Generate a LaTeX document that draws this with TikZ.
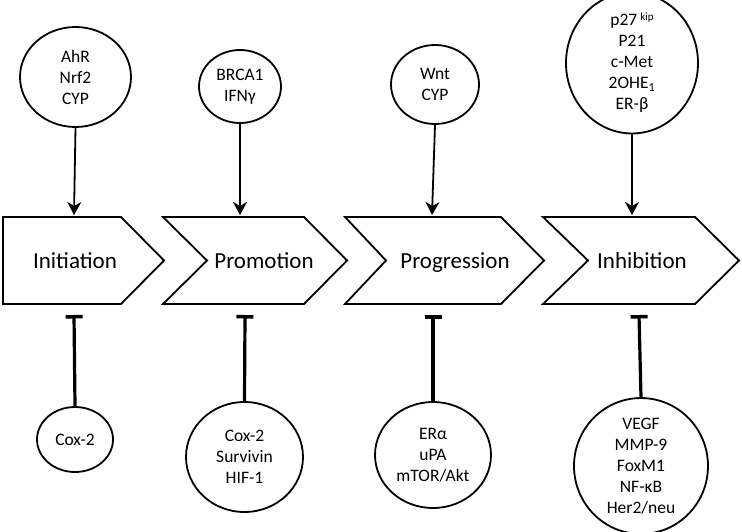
\documentclass[tikz,border=0pt]{standalone}
\usepackage{fontspec}
\setmainfont{Carlito}
\usetikzlibrary{shapes.geometric,arrows.meta}
\tikzset{
  oval/.style={draw, ellipse, line width=1.8pt, inner sep=0pt, align=center,
    font=\fontsize{17.5}{21}\selectfont},
  chev/.style={draw, line width=1.8pt, line join=miter},
  stagelabel/.style={font=\fontsize{23}{26}\selectfont, inner sep=0pt, anchor=base},
  actarrow/.style={line width=1.8pt, -{Stealth[length=13pt,width=14pt,inset=4pt]}},
  inhib/.style={line width=3.2pt, {Bar[width=17pt,line width=3.5pt]}-}
}
\begin{document}
\begin{tikzpicture}[x=1pt,y=-1pt]
\useasboundingbox (0,0) rectangle (742,532);
% top ovals
\node[oval, minimum width=111pt, minimum height=100pt] (t1) at (75.5,77) {AhR\\Nrf2\\CYP};
\node[oval, minimum width=82pt, minimum height=73pt] (t2) at (240,86.5) {BRCA1\\IFNγ};
\node[oval, minimum width=88pt, minimum height=79pt] (t3) at (435,84.5) {Wnt\\CYP};
\node[oval, minimum width=132pt, minimum height=122pt] (t4) at (632,63) {p27\,{\fontsize{11}{11}\selectfont\raisebox{5pt}{kip}}\\P21\\c-Met\\2OHE\textsubscript{1}\\ER-β};
% chevrons
\draw[chev] (3,217) -- (121,217) -- (164,260.5) -- (121,304) -- (3,304) -- cycle;
\draw[chev] (163,217) -- (304,217) -- (347,260.5) -- (304,304) -- (163,304) -- (207,260.5) -- cycle;
\draw[chev] (345,217) -- (501,217) -- (544,260.5) -- (501,304) -- (345,304) -- (386,260.5) -- cycle;
\draw[chev] (543,217) -- (695,217) -- (739,260.5) -- (695,304) -- (543,304) -- (588,260.5) -- cycle;
\node[stagelabel] (s1) at (75,268) {Initiation};
\node[stagelabel] (s2) at (264,268) {Promotion};
\node[stagelabel] (s3) at (455,268) {Progression};
\node[stagelabel] (s4) at (642,268) {Inhibition};
% arrow endpoints
\coordinate (a1) at (74,215);
\coordinate (a2) at (240,215);
\coordinate (a3) at (432,215);
\coordinate (a4) at (632,215);
\draw[actarrow] (t1.south) -- (a1);
\draw[actarrow] (t2.south) -- (a2);
\draw[actarrow] (t3.south) -- (a3);
\draw[actarrow] (t4.south) -- (a4);
% bottom ovals
\node[oval, minimum width=76pt, minimum height=65pt] (b1) at (75,439.5) {Cox-2};
\node[oval, minimum width=117pt, minimum height=110pt] (b2) at (244.5,457) {Cox-2\\Survivin\\HIF-1};
\node[oval, minimum width=116pt, minimum height=106pt] (b3) at (433,455) {ERα\\uPA\\mTOR/Akt};
\node[oval, minimum width=134pt, minimum height=128pt] (b4) at (641,466) {VEGF\\MMP-9\\FoxM1\\NF-κB\\Her2/neu};
\coordinate (i1) at (74,315);
\coordinate (i2) at (245,315);
\coordinate (i3) at (433,315);
\coordinate (i4) at (639,315);
\draw[inhib] (i1) -- (b1.north);
\draw[inhib] (i2) -- (b2.north);
\draw[inhib] (i3) -- (b3.north);
\draw[inhib] (i4) -- (b4.north);
\end{tikzpicture}
\end{document}
